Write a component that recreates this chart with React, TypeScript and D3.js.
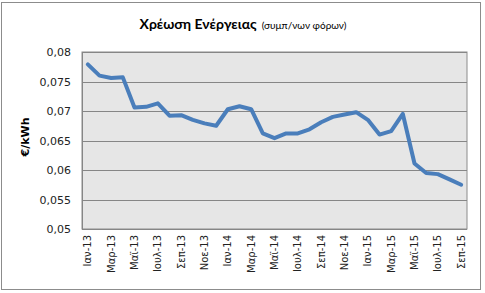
import React from "react";
import * as d3 from "d3";

const months = ["Ιαν","Φεβ","Μαρ","Απρ","Μαϊ","Ιουν","Ιουλ","Αυγ","Σεπ","Οκτ","Νοε","Δεκ"];
const years = ["13","14","15"];
const categories: string[] = [];
years.forEach(y => months.forEach(m => categories.push(`${m}-${y}`)));
const cats = categories.slice(0, 33);
const values = [
  0.0779, 0.0760, 0.0756, 0.0757, 0.0706, 0.0707, 0.0713, 0.0692, 0.0693, 0.0685, 0.0679,
  0.0675, 0.0703, 0.0708, 0.0703, 0.0662, 0.0654, 0.0662, 0.0662, 0.0669, 0.0681, 0.0690,
  0.0694, 0.0698, 0.0685, 0.0660, 0.0666, 0.0695, 0.0611, 0.0595, 0.0593, 0.0584, 0.0575,
];
const yTicks = [0.05, 0.055, 0.06, 0.065, 0.07, 0.075, 0.08];
const title = "Χρέωση Ενέργειας";
const subtitle = "(συμπ/νων φόρων)";
const yLabel = "€/kWh";

export default function App() {
  const W = 485, H = 293;
  const left = 82, right = 467, top = 52, bottom = 229;
  const x = d3.scaleBand<string>().domain(cats).range([left, right]);
  const y = d3.scaleLinear().domain([0.05, 0.08]).range([bottom, top]);
  const line = d3.line<number>()
    .x((_, i) => (x(cats[i]) as number) + x.bandwidth() / 2)
    .y(d => y(d));
  const fmt = (v: number) => String(+v.toFixed(3)).replace(".", ",");
  return (
    <svg width={W} height={H} style={{ position: "absolute", left: 0, top: 0, background: "#fff" }}>
      <rect x={1.5} y={2.5} width={479} height={287} fill="#fff" stroke="#8c8c8c" />
      <text x={243} y={29} textAnchor="middle" fontFamily="Lato, 'Open Sans', sans-serif">
        <tspan fontWeight="bold" fontSize={14}>{title}</tspan>
        <tspan fontSize={10} dx={5}>{subtitle}</tspan>
      </text>
      <rect x={left} y={top} width={right - left} height={bottom - top} fill="#e6e6e6" stroke="#8c8c8c" />
      {yTicks.map(t => (
        <g key={t}>
          <line x1={left} x2={right} y1={Math.round(y(t)) + 0.5} y2={Math.round(y(t)) + 0.5} stroke="#868686" />
          <text x={71} y={y(t) + 4} textAnchor="end" fontSize={11} fontFamily="'DejaVu Sans', Verdana, sans-serif" fill="#222">{fmt(t)}</text>
        </g>
      ))}
      <line x1={left + 0.5} x2={left + 0.5} y1={top} y2={bottom} stroke="#868686" />
      <text transform={`translate(29,137) rotate(-90)`} textAnchor="middle" fontSize={11} fontWeight="bold" fontFamily="'DejaVu Sans', sans-serif">{yLabel}</text>
      {cats.map((c, i) => i % 2 === 0 ? (
        <text key={c} transform={`translate(${(x(c) as number) + x.bandwidth() / 2 + 3.5},${bottom + 6}) rotate(-90)`}
          textAnchor="end" fontSize={10} fontFamily="'DejaVu Sans', Verdana, sans-serif" fill="#222">{c}</text>
      ) : null)}
      <path d={line(values) || ""} fill="none" stroke="#4a7ebb" strokeWidth={4} strokeLinejoin="round" strokeLinecap="round" />
    </svg>
  );
}
